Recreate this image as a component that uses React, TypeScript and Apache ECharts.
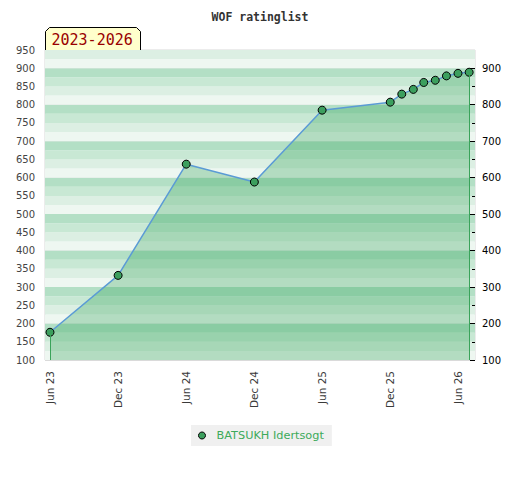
import React, { useEffect, useRef } from 'react';
import * as echarts from 'echarts';

// ---- data ----
const months: string[] = [
  '2023-06', '2023-12', '2024-06', '2024-12', '2025-06', '2025-12',
  '2026-01', '2026-02', '2026-03', '2026-04', '2026-05', '2026-06', '2026-07',
];
const ratings: number[] = [176, 332, 637, 588, 785, 807, 829, 842, 861, 867, 879, 886, 889];
const xTickMonths: string[] = ['2023-06', '2023-12', '2024-06', '2024-12', '2025-06', '2025-12', '2026-06'];
const leftTicks: number[] = [100, 150, 200, 250, 300, 350, 400, 450, 500, 550, 600, 650, 700, 750, 800, 850, 900, 950];
const rightTicks: number[] = [100, 200, 300, 400, 500, 600, 700, 800, 900];
const rightMinorTicks: number[] = [150, 250, 350, 450, 550, 650, 750, 850];
const seriesName = 'BATSUKH Idertsogt';
const titleText = 'WOF ratinglist';
const periodText = '2023-2026';

const MONTH_NAMES = ['Jan', 'Feb', 'Mar', 'Apr', 'May', 'Jun', 'Jul', 'Aug', 'Sep', 'Oct', 'Nov', 'Dec'];
const DAY = 86400000;
const toTime = (m: string) => {
  const [y, mo] = m.split('-').map(Number);
  return Date.UTC(y, mo - 1, 1);
};
const fmtTime = (t: number) => {
  const d = new Date(t);
  return MONTH_NAMES[d.getUTCMonth()] + ' ' + String(d.getUTCFullYear()).slice(2);
};

const stripeColors = ['#eef7f1', '#dcefe3', '#c8e8d4', '#b3dfc5'];

export default function App() {
  const ref = useRef<HTMLDivElement>(null);
  useEffect(() => {
    document.body.style.margin = '0';
    if (!ref.current) return;
    const chart = echarts.init(ref.current, undefined, { renderer: 'svg' });
    const yMin = leftTicks[0];
    const yMax = leftTicks[leftTicks.length - 1];
    const pts = months.map((m, i) => [toTime(m), ratings[i]]);
    const first = pts[0];
    const last = pts[pts.length - 1];
    const xMin = toTime(xTickMonths[0]) - 13.4 * DAY;
    const xMax = toTime(xTickMonths[xTickMonths.length - 1]) + 45.7 * DAY;
    const labelFont = 'DejaVu Sans';

    chart.setOption({
      animation: false,
      title: {
        text: titleText,
        left: 'center',
        top: 6,
        textStyle: { fontFamily: 'DejaVu Sans Mono', fontWeight: 'bold', fontSize: 11.5, color: '#333' },
      },
      grid: {
        left: 45, right: 45, top: 50, bottom: 120,
        show: true, borderColor: '#d8d8d8', borderWidth: 1,
        outerBoundsMode: 'none',
      },
      legend: {
        left: 191, top: 425,
        backgroundColor: '#f0f0f0',
        padding: [5, 8, 5, 7],
        icon: 'circle', itemWidth: 7, itemHeight: 7, itemGap: 10,
        itemStyle: { borderWidth: 1, borderColor: '#000' },
        textStyle: { color: '#3caa5a', fontSize: 11.3, fontFamily: labelFont, padding: [0, 0, 0, 6] },
        data: [seriesName],
      },
      xAxis: {
        type: 'value',
        min: xMin,
        max: xMax,
        axisLine: { show: false },
        axisTick: { show: false },
        splitLine: { show: false },
        axisLabel: {
          customValues: xTickMonths.map(toTime),
          formatter: (v: number) => fmtTime(v),
          rotate: 90,
          margin: 11,
          fontSize: 10.5,
          fontFamily: labelFont,
          color: '#3a3a3a',
        },
      },
      yAxis: [
        {
          type: 'value', min: yMin, max: yMax, interval: 50, position: 'left',
          axisLine: { show: false }, axisTick: { show: false }, splitLine: { show: false },
          axisLabel: { fontSize: 10, fontFamily: labelFont, color: '#444', margin: 10 },
        },
        {
          type: 'value', min: yMin, max: yMax, interval: 100, position: 'right',
          axisLine: { show: false },
          axisTick: { show: true, inside: true, length: 5, customValues: rightTicks, lineStyle: { color: '#000' } },
          axisLabel: { customValues: rightTicks, fontSize: 10, fontFamily: labelFont, color: '#000', margin: 7 },
          splitLine: { show: true, lineStyle: { color: '#dadada', width: 1 } },
        },
        {
          type: 'value', min: yMin, max: yMax, interval: 50, position: 'right',
          axisLine: { show: false },
          axisTick: { show: true, inside: true, length: 3, customValues: rightMinorTicks, lineStyle: { color: '#000' } },
          axisLabel: { show: false },
          splitLine: { show: false },
        },
        {
          type: 'value', min: yMin, max: yMax, interval: 25, position: 'left',
          axisLine: { show: false }, axisTick: { show: false }, axisLabel: { show: false },
          splitLine: { show: false },
          splitArea: { show: true, areaStyle: { color: stripeColors } },
        },
      ],
      series: [
        {
          type: 'line',
          name: seriesName,
          data: pts,
          yAxisIndex: 0,
          symbol: 'circle',
          symbolSize: 8,
          itemStyle: { color: '#3c9f5e', borderColor: '#000', borderWidth: 1 },
          lineStyle: { color: '#5b9bd5', width: 1.5 },
          areaStyle: { color: 'rgba(50,161,86,0.44)', origin: 'start' },
          markLine: {
            silent: true,
            symbol: 'none',
            z: 5,
            label: { show: false },
            lineStyle: { color: '#3aa35a', width: 1, type: 'solid' },
            data: [
              [{ coord: [first[0], first[1]] }, { coord: [first[0], yMin] }],
              [{ coord: [last[0], last[1]] }, { coord: [last[0], yMin] }],
            ],
          },
        },
      ],
      graphic: [
        {
          type: 'group',
          x: 45.5,
          y: 27.5,
          z: 100,
          children: [
            {
              type: 'polygon',
              shape: { points: [[0, 23], [0, 4], [4, 0], [91, 0], [95, 4], [95, 23]] },
              style: { fill: '#ffffcc', stroke: '#000', lineWidth: 1 },
            },
            {
              type: 'text',
              x: 6,
              y: 12,
              style: {
                text: periodText,
                font: '15px "DejaVu Sans Mono"',
                fill: '#990000',
                verticalAlign: 'middle',
              },
            },
          ],
        },
      ],
    });
    return () => chart.dispose();
  }, []);
  return <div ref={ref} style={{ width: 520, height: 480 }} />;
}
